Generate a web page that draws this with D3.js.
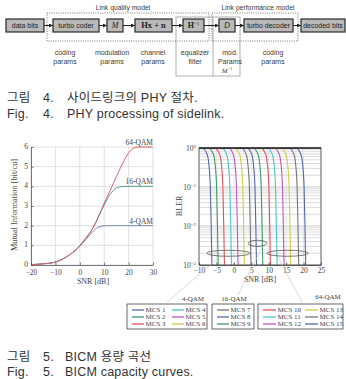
<!DOCTYPE html>
<html>
<head>
<meta charset="utf-8">
<script src="https://cdn.jsdelivr.net/npm/d3@7"></script>
<style>
body{margin:0;background:#fff;}
svg{display:block;}
.sans{font-family:"Liberation Sans",Arial,sans-serif;}
.serif{font-family:"Liberation Serif","Times New Roman",serif;}
.cap{font-family:"Liberation Sans","Noto Sans CJK KR",sans-serif;font-size:12.5px;fill:#333;letter-spacing:0.2px;}
</style>
</head>
<body>
<svg id="fig" width="346" height="379"></svg>
<script>
// ---- data ----
var blockNames = ["data bits","turbo coder","M","Hx + n","H","D","turbo decoder","decoded bits"];
var paramLabels = [["coding","params"],["modulation","params"],["channel","params"],["equalizer","filter"],["mod.","Params","M"],["coding","params"]];

var snrMI = [-20,-15,-10,-5,0,2.5,5,7.5,10,12.5,15,17.5,20,22.5,25,27.5,30];
var mi4qam = [0.02,0.06,0.15,0.45,0.95,1.3,1.65,1.92,1.99,2,2,2,2,2,2,2,2];
var mi16qam = [0.02,0.06,0.15,0.45,0.98,1.38,1.8,2.4,3.05,3.6,3.92,3.99,4,4,4,4,4];
var mi64qam = [0.02,0.06,0.15,0.45,0.98,1.38,1.8,2.42,3.15,3.8,4.5,5.15,5.7,5.96,6,6,6];
var miNames = ["4-QAM","16-QAM","64-QAM"];
var miTicksX = [-20,-10,0,10,20,30];
var miTicksY = [0,1,2,3,4,5,6];

var blerLevels = [1,1,0.7,0.4,0.1,0.01,0.001];
var mcsSnr = [
  [-12,-9.1,-7.7,-7.2,-6.75,-6.5,-6.3],
  [-10,-7.3,-5.9,-5.4,-4.95,-4.7,-4.5],
  [-8,-5.5,-4.1,-3.6,-3.15,-2.9,-2.7],
  [-6,-3.5,-2.1,-1.6,-1.15,-0.9,-0.7],
  [-4,-1.6,-0.2,0.3,0.75,1.0,1.2],
  [-2,0.2,1.6,2.1,2.55,2.8,3.0],
  [0,2.1,3.5,4.0,4.45,4.7,4.9],
  [1,3.7,5.1,5.6,6.05,6.3,6.5],
  [3,5.5,6.9,7.4,7.85,8.1,8.3],
  [5,7.7,9.1,9.6,10.05,10.3,10.5],
  [7,9.6,11.0,11.5,11.95,12.2,12.4],
  [9,11.6,13.0,13.5,13.95,14.2,14.4],
  [11,13.5,14.9,15.4,15.85,16.1,16.3],
  [13,15.8,17.2,17.7,18.15,18.4,18.6],
  [15,17.8,19.2,19.7,20.15,20.4,20.6]
];
var mcsNames = ["MCS 1","MCS 2","MCS 3","MCS 4","MCS 5","MCS 6","MCS 7","MCS 8","MCS 9","MCS 10","MCS 11","MCS 12","MCS 13","MCS 14","MCS 15"];
var mcsColors = ["#5566b0","#3c9a6c","#e8505a","#44c6d0","#c055c6","#cfcf45","#767676"];
var blerTicksX = [-10,-5,0,5,10,15,20,25];
var blerTicksY = [0,-1,-2,-3];
var qamGroups = ["4-QAM","16-QAM","64-QAM"];
var groupMcs = [[0,1,2,3,4,5],[6,7,8],[9,10,11,12,13,14]];
var groupSpan = [[-7.7,4.6],[4.1,9.5],[9.5,21.3]];
var groupBler = [0.002,0.0036,0.002];

var svg = d3.select("#fig");

// ---- Fig 4 : block diagram ----
var blockX = [[6,44],[53,99],[107,123],[135,172],[183,204],[219,235],[244,293],[301,345]];
var paramX = [65,112,153,195,230,273];
var diag = svg.append("g");

diag.append("defs").append("marker")
  .attr("id","arr").attr("viewBox","0 0 6 6").attr("refX",6).attr("refY",3)
  .attr("markerWidth",4).attr("markerHeight",4).attr("orient","auto")
  .append("path").attr("d","M0,0L6,3L0,6Z").attr("fill","#222");

diag.append("rect").attr("x",176).attr("y",17).attr("width",64).attr("height",59)
  .attr("fill","none").attr("stroke","#b0b0b0").attr("stroke-width",1);
diag.append("line").attr("x1",213).attr("x2",213).attr("y1",17).attr("y2",76)
  .attr("stroke","#b0b0b0").attr("stroke-width",1);

[[47,209,"Link quality model",123],[212,298,"Link performance model",258]].forEach(function(b){
  diag.append("rect").attr("x",b[0]).attr("y",13).attr("width",b[1]-b[0]).attr("height",28)
    .attr("fill","none").attr("stroke","#555").attr("stroke-width",0.8).attr("stroke-dasharray","1,1.3");
  diag.append("text").attr("class","sans").attr("x",b[3]).attr("y",9.5)
    .attr("text-anchor","middle").attr("font-size",6.8).attr("fill","#3a3a3a").text(b[2]);
});

blockX.forEach(function(bx,i){
  if(i>0){
    diag.append("line").attr("x1",blockX[i-1][1]).attr("x2",bx[0]).attr("y1",25.5).attr("y2",25.5)
      .attr("stroke","#222").attr("stroke-width",1).attr("marker-end","url(#arr)");
  }
  diag.append("rect").attr("x",bx[0]).attr("y",19).attr("width",bx[1]-bx[0]).attr("height",13)
    .attr("fill","#b9b9b9").attr("stroke","#2a2a2a").attr("stroke-width",1.2);
  var t = diag.append("text").attr("x",(bx[0]+bx[1])/2).attr("y",28).attr("text-anchor","middle").attr("fill","#222");
  var n = blockNames[i];
  if(n=="M"||n=="D"){
    t.attr("class","serif").attr("font-style","italic").attr("font-size",8).text(n);
  } else if(n=="Hx + n"){
    t.attr("class","serif").attr("font-weight","bold").attr("font-size",8.5).text(n);
  } else if(n=="H"){
    t.attr("class","serif").attr("font-weight","bold").attr("font-size",8).text(n);
    t.append("tspan").attr("font-size",5).attr("font-weight","normal").attr("dy",-3).text("\u22121");
  } else {
    t.attr("class","sans").attr("font-size",7).text(n);
  }
});

paramLabels.forEach(function(lines,i){
  lines.forEach(function(s,j){
    var t = diag.append("text").attr("x",paramX[i]).attr("y",54.5+j*9)
      .attr("text-anchor","middle").attr("font-size",7).attr("fill","#3a3a3a");
    if(j==2){
      t.attr("class","serif").attr("font-style","italic").attr("x",paramX[i]-3).text(s);
      t.append("tspan").attr("font-style","normal").attr("font-size",4.5).attr("dy",-3).text("\u22121");
    } else {
      t.attr("class","sans").text(s);
    }
  });
});

function caption(y,a,b,c,cx){
  var g = svg.append("g").attr("class","cap");
  g.append("text").attr("x",7).attr("y",y).text(a);
  g.append("text").attr("x",43).attr("y",y).text(b);
  g.append("text").attr("x",cx).attr("y",y).text(c);
}
caption(102,"그림","4.","사이드링크의 PHY 절차.",67);
caption(118,"Fig.","4.","PHY processing of sidelink.",67);

// ---- Fig 5 left : mutual information ----
var xMI = d3.scaleLinear().domain([-20,30]).range([31,153]);
var yMI = d3.scaleLinear().domain([0,6]).range([265,147]);
var left = svg.append("g").attr("class","serif");

left.selectAll(".vg").data(miTicksX).enter().append("line")
  .attr("x1",function(d){return xMI(d)}).attr("x2",function(d){return xMI(d)})
  .attr("y1",yMI(0)).attr("y2",yMI(6)).attr("stroke","#d4d4d4").attr("stroke-width",0.7);
left.selectAll(".hg").data(miTicksY).enter().append("line")
  .attr("y1",function(d){return yMI(d)}).attr("y2",function(d){return yMI(d)})
  .attr("x1",xMI(-20)).attr("x2",xMI(30)).attr("stroke","#d4d4d4").attr("stroke-width",0.7);

var miLine = d3.line().curve(d3.curveMonotoneX)
  .x(function(d){return xMI(d[0])}).y(function(d){return yMI(d[1])});
var miSeries = [mi4qam,mi16qam,mi64qam];
var miColors = ["#7a86c4","#4fa383","#e0606e"];
miSeries.forEach(function(s,i){
  left.append("path").datum(snrMI.map(function(x,k){return [x,s[k]]}))
    .attr("d",miLine).attr("fill","none").attr("stroke",miColors[i]).attr("stroke-width",1);
  left.append("text").attr("x",xMI(30)).attr("y",yMI(s[s.length-1])-2)
    .attr("text-anchor","end").attr("font-size",7.5).attr("fill","#444").text(miNames[i]);
});

var axB = left.append("g").attr("transform","translate(0,"+yMI(0)+")")
  .call(d3.axisBottom(xMI).tickValues(miTicksX).tickFormat(d3.format("d")).tickSize(-2.5).tickSizeOuter(0).tickPadding(5));
var axL = left.append("g").attr("transform","translate("+xMI(-20)+",0)")
  .call(d3.axisLeft(yMI).tickValues(miTicksY).tickFormat(d3.format("d")).tickSize(-2.5).tickSizeOuter(0).tickPadding(3));
[axB,axL].forEach(function(a){
  a.attr("font-family",null).attr("font-size",null);
  a.selectAll("text").attr("font-size",7.5).attr("fill","#444");
  a.selectAll("path,line").attr("stroke","#555").attr("stroke-width",0.8);
});
axL.selectAll("text").attr("x",-3).attr("dy","0.2em");
left.append("text").attr("x",93).attr("y",284).attr("text-anchor","middle")
  .attr("font-size",8).attr("fill","#444").text("SNR [dB]");
left.append("text").attr("transform","translate(17,205) rotate(-90)").attr("text-anchor","middle")
  .attr("font-size",8.3).attr("fill","#444").text("Mutual Information [bit/cu]");

// ---- Fig 5 right : BLER ----
var xB = d3.scaleLinear().domain([-10,25]).range([199,321]);
var yB = d3.scaleLog().domain([1e-3,1]).range([265,148]);
var right = svg.append("g").attr("class","serif");

right.append("clipPath").attr("id","clipB").append("rect")
  .attr("x",xB(-10)).attr("y",yB(1)).attr("width",xB(25)-xB(-10)).attr("height",yB(1e-3)-yB(1));

var minor = [];
[1e-3,1e-2,1e-1].forEach(function(dec){
  for(var k=1;k<10;k++) minor.push(dec*k);
});
right.selectAll(".mg").data(minor).enter().append("line")
  .attr("y1",function(d){return yB(d)}).attr("y2",function(d){return yB(d)})
  .attr("x1",xB(-10)).attr("x2",xB(25))
  .attr("stroke",function(d,i){return i%9==0?"#aaa":"#c4c4c4"}).attr("stroke-width",0.6);
right.selectAll(".vg").data(blerTicksX).enter().append("line")
  .attr("x1",function(d){return xB(d)}).attr("x2",function(d){return xB(d)})
  .attr("y1",yB(1)).attr("y2",yB(1e-3)).attr("stroke","#dadada").attr("stroke-width",0.6);

var blerLine = d3.line().curve(d3.curveMonotoneX)
  .x(function(d){return xB(d[0])}).y(function(d){return yB(d[1])});
right.append("g").attr("clip-path","url(#clipB)").selectAll("path").data(mcsSnr).enter().append("path")
  .attr("d",function(s){return blerLine(s.map(function(x,k){return [x,blerLevels[k]]}))})
  .attr("fill","none").attr("stroke-width",1.1)
  .attr("stroke",function(d,i){return mcsColors[i%7]});

right.append("rect").attr("x",xB(-10)).attr("y",yB(1)).attr("width",xB(25)-xB(-10)).attr("height",yB(1e-3)-yB(1))
  .attr("fill","none").attr("stroke","#444").attr("stroke-width",0.8);
right.append("line").attr("x1",xB(-10)).attr("x2",xB(25)).attr("y1",yB(1)).attr("y2",yB(1))
  .attr("stroke","#222").attr("stroke-width",1.6);

var axBx = right.append("g").attr("transform","translate(0,"+yB(1e-3)+")")
  .call(d3.axisBottom(xB).tickValues(blerTicksX).tickFormat(d3.format("d")).tickSize(-2.5).tickSizeOuter(0).tickPadding(3));
axBx.attr("font-family",null).attr("font-size",null);
axBx.selectAll("text").attr("font-size",7.5).attr("fill","#444");
axBx.selectAll("path,line").attr("stroke","#444").attr("stroke-width",0.8);

var yl = right.selectAll(".yl").data(blerTicksY).enter().append("text")
  .attr("x",xB(-10)-3).attr("y",function(d){return yB(Math.pow(10,d))+2.5})
  .attr("text-anchor","end").attr("font-size",7.5).attr("fill","#444");
yl.append("tspan").text("10");
yl.append("tspan").attr("font-size",5).attr("dy",-3).text(function(d){return d==0?"0":"\u2212"+(-d)});

right.append("text").attr("x",260).attr("y",282).attr("text-anchor","middle")
  .attr("font-size",8).attr("fill","#444").text("SNR [dB]");
right.append("text").attr("transform","translate(182,206) rotate(-90)").attr("text-anchor","middle")
  .attr("font-size",8).attr("fill","#444").text("BLER");

// group ellipses, connectors and legends
var boxX = [[127,207],[212,254],[258,343]];
var lineEnd = [[167,302],[238,295],[302,302]];
var lineStartDx = [-8,5,-10];
qamGroups.forEach(function(q,gi){
  var cx = (xB(groupSpan[gi][0])+xB(groupSpan[gi][1]))/2;
  var rx = (xB(groupSpan[gi][1])-xB(groupSpan[gi][0]))/2;
  var cy = yB(groupBler[gi]);
  right.append("line").attr("x1",cx+lineStartDx[gi]).attr("y1",cy+3).attr("x2",lineEnd[gi][0]).attr("y2",lineEnd[gi][1])
    .attr("stroke","#c8c8c8").attr("stroke-width",0.7);
  right.append("ellipse").attr("cx",cx).attr("cy",cy).attr("rx",rx).attr("ry",3)
    .attr("fill","none").attr("stroke","#555").attr("stroke-width",0.8);

  var bx = boxX[gi];
  right.append("rect").attr("x",bx[0]).attr("y",304).attr("width",bx[1]-bx[0]).attr("height",25)
    .attr("fill","#fff").attr("stroke","#444").attr("stroke-width",0.8);
  right.append("text").attr("x",gi==2?328:(gi==0?193:234)).attr("y",gi==2?299:300.5)
    .attr("text-anchor","middle").attr("font-size",7).attr("fill","#444").text(q);
  var colW = gi==1?0:(gi==0?40:42);
  groupMcs[gi].forEach(function(m,k){
    var col = Math.floor(k/3), row = k%3;
    var x0 = bx[0]+5+col*colW;
    var y0 = 310+row*7;
    right.append("line").attr("x1",x0).attr("x2",x0+(gi==2?13:12)).attr("y1",y0).attr("y2",y0)
      .attr("stroke",mcsColors[m%7]).attr("stroke-width",1.3);
    right.append("text").attr("x",x0+(gi==2?14.5:13.5)).attr("y",y0+2.3)
      .attr("font-size",7).attr("fill","#444").text(mcsNames[m]);
  });
});

caption(361,"그림","5.","BICM 용량 곡선",65);
caption(376,"Fig.","5.","BICM capacity curves.",65);
</script>
</body>
</html>
